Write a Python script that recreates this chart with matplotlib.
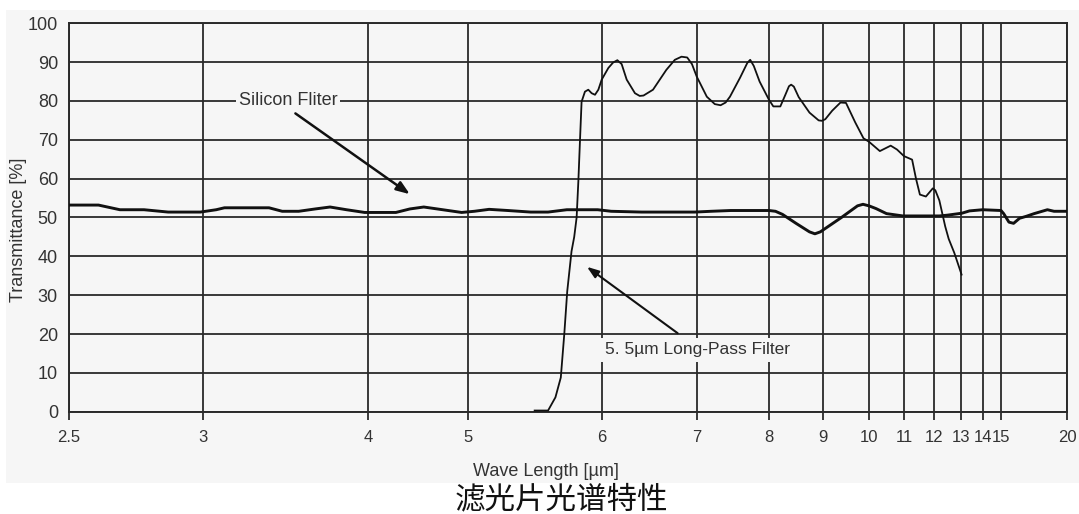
import numpy as np
import matplotlib.pyplot as plt
from matplotlib.patches import Rectangle

plt.rcParams['font.family'] = ['Liberation Sans', 'DejaVu Sans']

# wavelength ticks of the original (non-uniform) axis
wl_ticks = [2.5, 3, 4, 5, 6, 7, 8, 9, 10, 11, 12, 13, 14, 15, 20]
wl_labels = ['2.5', '3', '4', '5', '6', '7', '8', '9', '10',
             '11', '12', '13', '14', '15', '20']
# where the scanned chart places those ticks (axis calibration)
wl_tick_pos = [69, 203, 368, 467.6, 601.7, 696.7, 769, 823, 869,
               904, 934, 960.7, 982.7, 1001, 1067.3]

# Silicon filter
si_wl = [2.50, 2.61, 2.69, 2.78, 2.87, 2.99, 3.08, 3.13, 3.40, 3.48, 3.58,
         3.68, 3.77, 3.87, 3.98, 4.28, 4.42, 4.56, 4.75, 4.94, 5.05, 5.16,
         5.30, 5.47, 5.60, 5.74, 5.97, 6.10, 6.42, 6.98, 7.20, 7.47, 8.00,
         8.12, 8.25, 8.50, 8.75, 8.85, 8.95, 9.40, 9.75, 9.87, 10.0, 10.2,
         10.5, 10.97, 12.2, 12.5, 13.05, 13.4, 14.0, 15.0, 15.2, 15.6,
         15.95, 16.4, 16.9, 17.5, 18.5, 19.0, 20.0]
si_T = [53.2, 53.2, 52.0, 52.0, 51.4, 51.4, 52.0, 52.5, 52.5, 51.6, 51.6,
        52.2, 52.7, 52.0, 51.3, 51.3, 52.2, 52.7, 52.0, 51.3, 51.6, 52.1,
        51.8, 51.4, 51.4, 52.0, 52.0, 51.6, 51.4, 51.4, 51.6, 51.8, 51.8,
        51.6, 50.8, 48.5, 46.3, 45.8, 46.3, 50.0, 53.0, 53.4, 53.0, 52.3,
        51.0, 50.4, 50.4, 50.6, 51.1, 51.7, 52.0, 51.8, 51.0, 48.8,
        48.5, 49.8, 50.3, 51.0, 52.0, 51.6, 51.6]

# 5.5 um long-pass filter
lp_wl = [5.50, 5.60, 5.655, 5.695, 5.721, 5.743, 5.775, 5.795, 5.813, 5.826,
         5.838, 5.850, 5.875, 5.90, 5.925, 5.95, 5.975, 6.00, 6.07, 6.12,
         6.165, 6.21, 6.263, 6.35, 6.40, 6.44, 6.54, 6.68, 6.77, 6.84, 6.90,
         6.95, 7.00, 7.14, 7.25, 7.33, 7.40, 7.46, 7.60, 7.70, 7.74, 7.79,
         7.87, 8.00, 8.08, 8.21, 8.30, 8.37, 8.41, 8.46, 8.55, 8.75, 8.92,
         8.98, 9.05, 9.20, 9.38, 9.50, 9.70, 9.88, 10.0, 10.31, 10.62, 10.80,
         11.0, 11.27, 11.40, 11.53, 11.73, 11.96, 12.05, 12.20, 12.42,
         12.55, 12.76, 13.04]
lp_T = [0.3, 0.3, 3.7, 8.8, 20.0, 31.0, 41.3, 45.0, 50.0, 59.4,
        69.8, 79.8, 82.4, 82.9, 82.0, 81.6, 82.9, 85.5, 88.5, 89.9,
        90.5, 89.5, 85.5, 82.0, 81.3, 81.4, 82.9, 88.0, 90.6, 91.4, 91.2,
        89.5, 86.3, 81.1, 79.2, 78.9, 79.6, 81.1, 86.0, 89.8, 90.6, 89.0,
        85.0, 80.3, 78.6, 78.6, 81.5, 83.8, 84.2, 83.7, 81.0, 77.0, 75.0,
        74.9, 75.3, 77.5, 79.6, 79.5, 74.5, 70.4, 69.5, 67.1, 68.5, 67.5,
        65.8, 64.9, 60.0, 55.9, 55.4, 57.5, 57.0, 54.4, 47.7,
        44.5, 40.9, 35.3]

cal_wl = np.array(wl_ticks, dtype=float)
cal_px = np.array(wl_tick_pos, dtype=float)


def _pw(x, xs, ys):
    x = np.asarray(x, dtype=float)
    y = np.interp(x, xs, ys)
    s0 = (ys[1] - ys[0]) / (xs[1] - xs[0])
    s1 = (ys[-1] - ys[-2]) / (xs[-1] - xs[-2])
    y = np.where(x < xs[0], ys[0] + (x - xs[0]) * s0, y)
    y = np.where(x > xs[-1], ys[-1] + (x - xs[-1]) * s1, y)
    return y


def fwd(x):
    return _pw(x, cal_wl, cal_px)


def inv(p):
    return _pw(p, cal_px, cal_wl)


W, H = 1079, 514
bg = '#f6f6f6'
ink = '#2a2a2a'
txt = '#333333'

fig = plt.figure(figsize=(W / 100, H / 100), dpi=100)
fig.patches.append(Rectangle((6 / W, 1 - 483 / H), 1 - 6 / W, (483 - 10) / H,
                             transform=fig.transFigure, facecolor=bg,
                             edgecolor='none', zorder=-10))

ax = fig.add_axes([69 / W, 1 - 411.7 / H, (1067.3 - 69) / W, (411.7 - 23.3) / H])
ax.set_zorder(1)
ax.set_facecolor(bg)
ax.set_xscale('function', functions=(fwd, inv))
ax.set_xlim(2.5, 20)
ax.set_ylim(0, 100)
ax.set_xticks(wl_ticks)
ax.set_xticklabels(wl_labels)
ax.set_yticks(range(0, 101, 10))
ax.minorticks_off()

ax.grid(True, color=ink, lw=1.3)
ax.set_axisbelow(True)
for sp in ax.spines.values():
    sp.set_color(ink)
    sp.set_linewidth(1.4)
ax.tick_params(axis='x', length=6, width=1.3, color=ink, pad=7,
               labelsize=12, labelcolor=txt)
ax.tick_params(axis='y', length=0, pad=8, labelsize=13, labelcolor=txt)

ax.plot(si_wl, si_T, color='#111111', lw=2.1, zorder=3)
ax.plot(lp_wl, lp_T, color='#111111', lw=1.3, zorder=3)

# annotations
ax.text(3.515, 80, 'Silicon Fliter', ha='center', va='center', fontsize=13,
        color=txt, zorder=4,
        bbox=dict(boxstyle='square,pad=0.15', fc=bg, ec='none'))
ax.annotate('', xy=(4.42, 56), xytext=(3.56, 76.8),
            arrowprops=dict(arrowstyle='-|>,head_length=0.8,head_width=0.3',
                            color='#111111', lw=1.8, shrinkA=0, shrinkB=0),
            annotation_clip=False, zorder=4)

ax.text(6.035, 15.9, '5. 5µm Long-Pass Filter', ha='left', va='center',
        fontsize=12.5, color=txt, zorder=4,
        bbox=dict(boxstyle='square,pad=0.25', fc=bg, ec='none'))
ax.annotate('', xy=(5.89, 37.3), xytext=(6.80, 20.2),
            arrowprops=dict(arrowstyle='-|>,head_length=0.7,head_width=0.25',
                            color='#111111', lw=1.5, shrinkA=0, shrinkB=0),
            zorder=4)

fig.text(19 / W, 1 - 230 / H, 'Transmittance [%]', rotation=90,
         ha='center', va='center', fontsize=13, color=txt)
fig.text(546 / W, 1 - 471.5 / H, 'Wave Length [µm]', ha='center',
         va='center', fontsize=13, color=txt)
fig.text(561 / W, 1 - 500 / H, '滤光片光谱特性', ha='center', va='center',
         fontsize=22, color='#111111',
         family=['Noto Sans CJK SC', 'DejaVu Sans'])

fig.savefig('out.png', dpi=100)
